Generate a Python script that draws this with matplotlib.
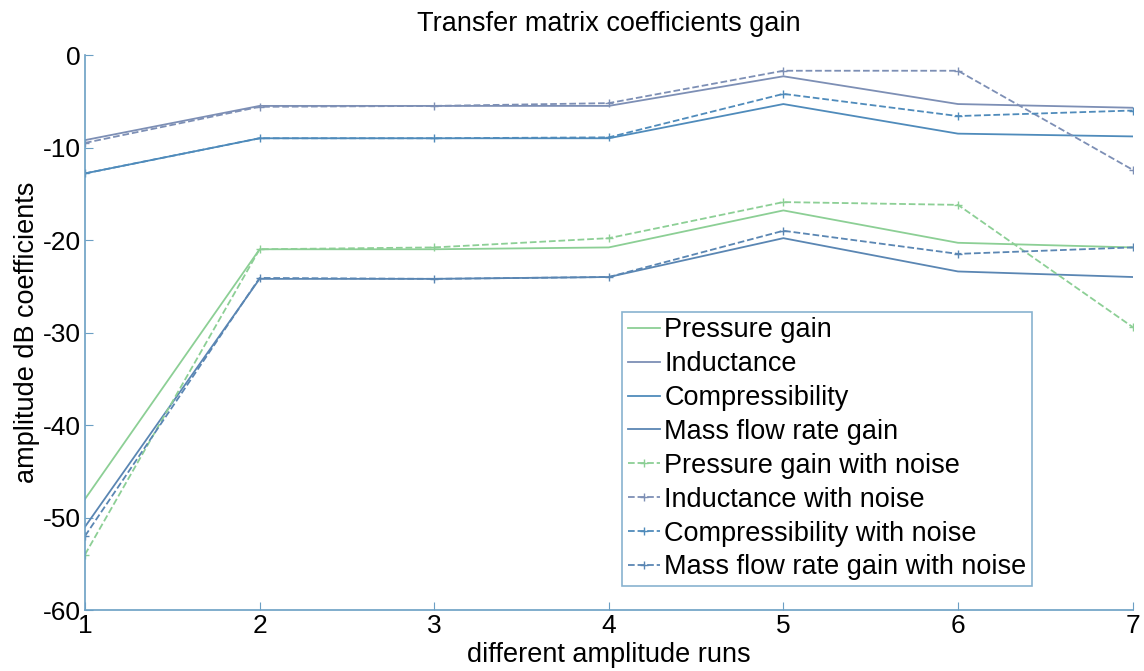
import matplotlib.pyplot as plt

plt.rcParams['font.family'] = ['Liberation Sans', 'DejaVu Sans']
plt.rcParams['axes.unicode_minus'] = False

# données
runs = [1, 2, 3, 4, 5, 6, 7]
pressure_gain = [-48.0, -21.0, -21.0, -20.8, -16.8, -20.3, -20.8]
inductance = [-9.2, -5.5, -5.5, -5.5, -2.3, -5.3, -5.7]
compressibility = [-12.8, -9.0, -9.0, -9.0, -5.3, -8.5, -8.8]
mass_flow_gain = [-51.0, -24.2, -24.2, -24.0, -19.8, -23.4, -24.0]

pressure_noise = [-54.0, -21.0, -20.8, -19.8, -15.9, -16.2, -29.4]
inductance_noise = [-9.5, -5.6, -5.5, -5.2, -1.7, -1.7, -12.4]
compressibility_noise = [-12.8, -9.0, -9.0, -8.9, -4.2, -6.6, -6.0]
mass_flow_noise = [-52.0, -24.1, -24.2, -24.0, -19.0, -21.5, -20.8]

labels = ['Pressure gain', 'Inductance', 'Compressibility', 'Mass flow rate gain',
          'Pressure gain with noise', 'Inductance with noise',
          'Compressibility with noise', 'Mass flow rate gain with noise']

c_green = '#8ccf95'
c_ind = '#7d8fb5'
c_comp = '#4f8bbb'
c_mass = '#5a86b3'
axis_col = '#6b9fc4'

fig = plt.figure(figsize=(11.44, 6.71), dpi=100)
ax = fig.add_axes([0.0743, 0.0909, 0.9157, 0.8271])

ax.plot(runs, pressure_gain, '-', color=c_green, lw=1.3, label=labels[0])
ax.plot(runs, inductance, '-', color=c_ind, lw=1.3, label=labels[1])
ax.plot(runs, compressibility, '-', color=c_comp, lw=1.3, label=labels[2])
ax.plot(runs, mass_flow_gain, '-', color=c_mass, lw=1.3, label=labels[3])

ax.plot(runs, pressure_noise, '--', marker='+', ms=6, color=c_green, lw=1.3, label=labels[4])
ax.plot(runs, inductance_noise, '--', marker='+', ms=6, color=c_ind, lw=1.3, label=labels[5])
ax.plot(runs, compressibility_noise, '--', marker='+', ms=6, color=c_comp, lw=1.3, label=labels[6])
ax.plot(runs, mass_flow_noise, '--', marker='+', ms=6, color=c_mass, lw=1.3, label=labels[7])

ax.set_xlim(1, 7)
ax.set_ylim(-60, 0)
ax.set_xticks(runs)
ax.set_yticks([-60, -50, -40, -30, -20, -10, 0])

for s in ['top', 'right']:
    ax.spines[s].set_visible(False)
for s in ['left', 'bottom']:
    ax.spines[s].set_color(axis_col)
    ax.spines[s].set_linewidth(1.2)
ax.tick_params(direction='in', colors=axis_col, labelcolor='black', labelsize=19, length=6, pad=3)

ax.set_title('Transfer matrix coefficients gain', fontsize=19.5, pad=17)
ax.set_xlabel('different amplitude runs', fontsize=19.5, labelpad=3)
ax.set_ylabel('amplitude dB coefficients', fontsize=19.5, labelpad=2)

leg = ax.legend(loc='upper left', bbox_to_anchor=(0.513, 0.537),
                fontsize=19.5, frameon=True, fancybox=False, handlelength=1.2, handletextpad=0.15,
                borderpad=0.2, labelspacing=0.29, borderaxespad=0)
leg.get_frame().set_edgecolor(axis_col)
leg.get_frame().set_linewidth(1.2)

plt.savefig('out.png')
